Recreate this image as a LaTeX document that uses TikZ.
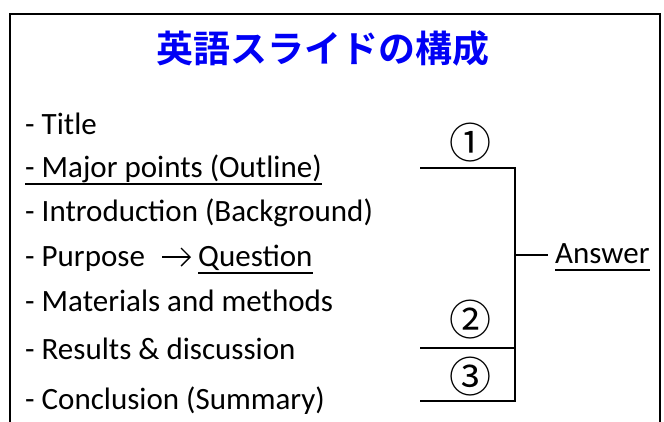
\documentclass[tikz,border=0pt]{standalone}
\usepackage{fontspec}
\usetikzlibrary{arrows.meta}
\setmainfont{Carlito}
\newfontfamily\jpfont{Noto Sans CJK JP}
\newfontfamily\jpbold{Noto Sans CJK JP Bold}
\definecolor{titleblue}{RGB}{0,0,245}
\tikzset{
  item/.style={anchor=base west, inner sep=0pt, font=\fontsize{31}{36}\selectfont},
  numlabel/.style={inner sep=0pt, font=\jpfont\fontsize{42}{46}\selectfont},
  bracketline/.style={line width=2pt},
  uline/.style={line width=1.6pt},
  textarrow/.style={line width=1.4pt, -{Straight Barb[length=9pt,width=18pt,line width=1.4pt]}},
}
\begin{document}
\begin{tikzpicture}[x=1pt,y=-1pt]
\useasboundingbox (0,0) rectangle (664,421);
% frame
\draw[line width=2pt] (10,14) rectangle (660,460);
% title
\node[inner sep=0pt, text=titleblue, font=\jpbold\fontsize{37}{40}\selectfont] (title) at (323,48) {英語スライドの構成};
% items
\node[item] (i1) at (25,134) {- Title};
\node[item] (i2) at (25,177) {- Major points (Outline)};
\node[item] (i3) at (25,221) {- Introduction (Background)};
\node[item] (i4) at (25,266) {- Purpose};
\node[item] (q) at (198,266) {Question};
\coordinate (arrs) at (162,257);
\coordinate (arre) at (191,257);
\draw[textarrow] (arrs) -- (arre);
\node[item] (i5) at (25,311) {- Materials and methods};
\node[item] (i6) at (25,359) {- Results \& discussion};
\node[item] (i7) at (25,409) {- Conclusion (Summary)};
\node[item] (ans) at (555,263) {Answer};
% underlines
\draw[uline] ([yshift=-7pt]i2.base west) -- ([yshift=-7pt]i2.base east);
\draw[uline] ([yshift=-7pt]q.base west) -- ([yshift=-7pt]q.base east);
\draw[uline] ([yshift=-7pt]ans.base west) -- ([yshift=-7pt]ans.base east);
% bracket
\coordinate (s1) at (420,168);
\coordinate (j1) at (515,168);
\coordinate (s2) at (420,348);
\coordinate (j2) at (515,348);
\coordinate (s3) at (420,401);
\coordinate (j3) at (515,401);
\coordinate (jm) at (515,255);
\coordinate (ae) at (548,255);
\draw[bracketline] (s1) -- (j1) -- (j3) -- (s3);
\draw[bracketline] (s2) -- (j2);
\draw[bracketline] (jm) -- (ae);
% numbers
\node[numlabel] (n1) at (470,143) {①};
\node[numlabel] (n2) at (470,320) {②};
\node[numlabel] (n3) at (470,377) {③};
\end{tikzpicture}
\end{document}
